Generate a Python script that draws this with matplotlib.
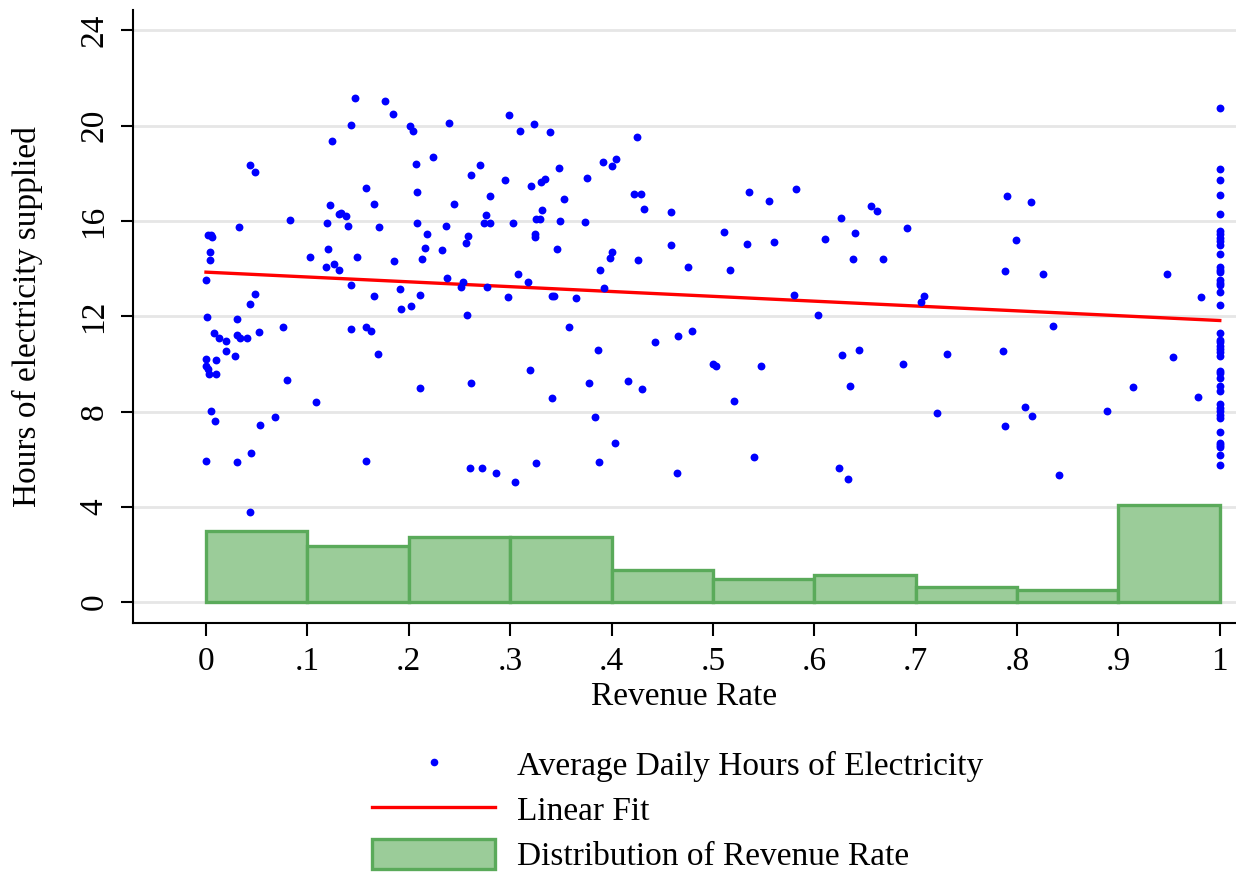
import numpy as np
import matplotlib.pyplot as plt
from matplotlib.patches import Patch
from matplotlib.lines import Line2D

# revenue rate / hours supplied (points with rate < 1)
rev_rate = [
    0.147, 0.143, 0.124, 0.043, 0.048, 0.158, 0.122, 0.131, 0.133, 0.138,
    0.083, 0.119, 0.140, 0.033, 0.002, 0.005, 0.006, 0.004, 0.120, 0.004,
    0.103, 0.149, 0.126, 0.118, 0.131, 0.000, 0.143, 0.048, 0.043, 0.001,
    0.031, 0.076, 0.143, 0.158, 0.008, 0.013, 0.020, 0.031, 0.034, 0.040,
    0.052, 0.020, 0.029, 0.000, 0.010, 0.000, 0.002, 0.003, 0.010, 0.080,
    0.109, 0.005, 0.009, 0.068, 0.053, 0.000, 0.031, 0.044, 0.158, 0.043,
    0.177, 0.184, 0.201, 0.204, 0.240, 0.299, 0.310, 0.324, 0.224, 0.207,
    0.270, 0.261, 0.295, 0.321, 0.330, 0.334, 0.208, 0.166, 0.245, 0.280,
    0.276, 0.208, 0.274, 0.280, 0.303, 0.326, 0.329, 0.331, 0.171, 0.237,
    0.218, 0.258, 0.325, 0.325, 0.256, 0.216, 0.233, 0.185, 0.213, 0.238,
    0.308, 0.318, 0.254, 0.252, 0.277, 0.166, 0.191, 0.211, 0.298, 0.192,
    0.202, 0.257, 0.163, 0.170, 0.320, 0.211, 0.261, 0.260, 0.272, 0.286,
    0.305, 0.326,
    0.339, 0.425, 0.392, 0.400, 0.404, 0.348, 0.376, 0.422, 0.429, 0.353,
    0.432, 0.459, 0.349, 0.374, 0.346, 0.459, 0.400, 0.399, 0.426, 0.389,
    0.475, 0.341, 0.343, 0.365, 0.393, 0.358, 0.387, 0.443, 0.466, 0.479,
    0.378, 0.416, 0.430, 0.341, 0.384, 0.403, 0.388, 0.465,
    0.536, 0.555, 0.582, 0.626, 0.656, 0.662, 0.511, 0.534, 0.560, 0.611,
    0.640, 0.517, 0.638, 0.580, 0.604, 0.500, 0.503, 0.547, 0.627, 0.644,
    0.635, 0.521, 0.541, 0.624, 0.633,
    0.790, 0.814, 0.691, 0.799, 0.668, 0.788, 0.826, 0.708, 0.705, 0.835,
    0.688, 0.731, 0.786, 0.721, 0.808, 0.815, 0.788,
    0.948, 0.981, 0.954, 0.914, 0.979, 0.889, 0.841,
]
hours = [
    21.18, 20.03, 19.35, 18.35, 18.06, 17.37, 16.66, 16.28, 16.35, 16.20,
    16.02, 15.92, 15.79, 15.75, 15.41, 15.41, 15.33, 14.70, 14.84, 14.38,
    14.49, 14.48, 14.20, 14.06, 13.96, 13.54, 13.33, 12.92, 12.51, 11.95,
    11.88, 11.54, 11.47, 11.53, 11.28, 11.07, 10.98, 11.20, 11.09, 11.07,
    11.34, 10.52, 10.35, 10.21, 10.16, 9.93, 9.77, 9.56, 9.56, 9.32,
    8.41, 8.02, 7.61, 7.79, 7.43, 5.93, 5.89, 6.27, 5.93, 3.79,
    21.05, 20.48, 19.99, 19.78, 20.13, 20.45, 19.78, 20.07, 18.69, 18.38,
    18.35, 17.93, 17.71, 17.46, 17.62, 17.76, 17.23, 16.70, 16.70, 17.04,
    16.23, 15.93, 15.90, 15.90, 15.92, 16.10, 16.07, 16.45, 15.75, 15.77,
    15.44, 15.36, 15.44, 15.32, 15.08, 14.88, 14.80, 14.31, 14.39, 13.61,
    13.78, 13.44, 13.44, 13.22, 13.22, 12.83, 13.16, 12.88, 12.81, 12.30,
    12.41, 12.07, 11.37, 10.42, 9.75, 8.97, 9.18, 5.64, 5.61, 5.43,
    5.05, 5.85,
    19.72, 19.54, 18.49, 18.30, 18.58, 18.24, 17.82, 17.11, 17.11, 16.90,
    16.49, 16.38, 15.99, 15.96, 14.81, 14.98, 14.69, 14.45, 14.34, 13.94,
    14.06, 12.83, 12.85, 12.76, 13.18, 11.54, 10.60, 10.92, 11.18, 11.36,
    9.20, 9.30, 8.95, 8.55, 7.79, 6.67, 5.89, 5.40,
    17.21, 16.84, 17.34, 16.14, 16.62, 16.41, 15.53, 15.02, 15.12, 15.26,
    15.51, 13.93, 14.39, 12.91, 12.04, 9.99, 9.92, 9.93, 10.37, 10.59,
    9.09, 8.43, 6.08, 5.64, 5.15,
    17.04, 16.79, 15.72, 15.18, 14.41, 13.88, 13.76, 12.85, 12.60, 11.59,
    10.00, 10.42, 10.56, 7.92, 8.17, 7.82, 7.39,
    13.78, 12.80, 10.28, 9.03, 8.59, 8.02, 5.34,
]
# hours for communities with revenue rate exactly 1
hours_full_rate = [
    20.76, 18.17, 17.72, 17.09, 16.27, 15.58, 15.44, 15.30, 15.16, 14.99,
    14.60, 14.05, 13.93, 13.85, 13.51, 13.40, 13.30, 13.02, 12.46, 11.29,
    11.01, 10.90, 10.77, 10.62, 10.48, 10.34, 9.72, 9.61, 9.39, 9.08,
    8.85, 8.30, 8.15, 8.02, 7.85, 7.73, 7.15, 6.66, 6.59, 6.50,
    6.17, 5.74,
]

# linear fit (intercept, slope) as shown
fit_intercept = 13.85
fit_slope = -2.03

# histogram of revenue rate (scaled heights)
bin_edges = [0, .1, .2, .3, .4, .5, .6, .7, .8, .9, 1.0]
bin_heights = [2.97, 2.35, 2.74, 2.74, 1.34, 0.95, 1.12, 0.62, 0.50, 4.06]

x_all = np.array(rev_rate + [1.0] * len(hours_full_rate))
y_all = np.array(hours + hours_full_rate)

plt.rcParams['font.family'] = 'Liberation Serif'

fig = plt.figure(figsize=(12.36, 8.73), dpi=100)
ax = fig.add_axes([0.1076, 0.286, 0.8924, 0.703])

edges = np.array(bin_edges)
ax.bar(edges[:-1], bin_heights, width=np.diff(edges), align='edge',
       color='#9bcc99', edgecolor='#5aaa5a', linewidth=2.4, zorder=2)

ax.scatter(x_all, y_all, s=32, color='blue', linewidths=0, zorder=4)

xf = np.array([0.0, 1.0])
ax.plot(xf, fit_intercept + fit_slope * xf, color='red', linewidth=2.4, zorder=3)

ax.set_xlim(-0.072, 1.016)
ax.set_ylim(-0.89, 24.87)
ax.set_xticks(bin_edges)
ax.set_xticklabels(['0', '.1', '.2', '.3', '.4', '.5', '.6', '.7', '.8', '.9', '1'])
ax.set_yticks(range(0, 25, 4))
ax.set_yticklabels([str(v) for v in range(0, 25, 4)], rotation=90, va='center')

ax.grid(axis='y', color='#e6e6e6', linewidth=2)
ax.set_axisbelow(True)
for side in ['top', 'right']:
    ax.spines[side].set_visible(False)
for side in ['left', 'bottom']:
    ax.spines[side].set_linewidth(1.5)
ax.tick_params(axis='both', direction='out', length=9, width=1.5, labelsize=24, pad=8)

ax.set_xlabel('Revenue Rate', fontsize=24, labelpad=3)
ax.set_ylabel('Hours of electricity supplied', fontsize=24, labelpad=26)

handles = [
    Line2D([], [], marker='o', linestyle='none', color='blue', markersize=5.5, markeredgewidth=0),
    Line2D([], [], color='red', linewidth=2.4),
    Patch(facecolor='#9bcc99', edgecolor='#5aaa5a', linewidth=2.4),
]
labels = ['Average Daily Hours of Electricity', 'Linear Fit', 'Distribution of Revenue Rate']
fig.legend(handles, labels, loc='upper left', bbox_to_anchor=(0.301, 0.142),
           frameon=False, fontsize=24, handlelength=3.7, handleheight=1.0,
           handletextpad=0.65, labelspacing=0.35, borderpad=0, borderaxespad=0)

fig.savefig('out.png', dpi=100)
